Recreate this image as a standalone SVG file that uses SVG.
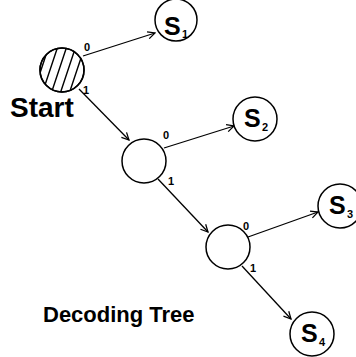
<svg xmlns="http://www.w3.org/2000/svg" width="356" height="357" viewBox="0 0 356 357">
<style>
.node{fill:#fff;stroke:#000;stroke-width:1.5}
.edge{fill:none;stroke:#000;stroke-width:1.3}
.hatch{stroke:#000;stroke-width:1.4}
.s{font-family:"Liberation Sans",Arial,sans-serif;font-weight:bold;font-size:25px;fill:#000}
.sub{font-family:"Liberation Sans",Arial,sans-serif;font-weight:bold;font-size:11px;fill:#000}
.lbl{font-family:"Liberation Sans",Arial,sans-serif;font-weight:bold;font-size:11px;fill:#000}
.title{font-family:"Liberation Sans",Arial,sans-serif;font-weight:bold;fill:#000}
</style>
<defs>
<marker id="arr" viewBox="0 0 10 10" refX="9" refY="5" markerWidth="9" markerHeight="9" markerUnits="userSpaceOnUse" orient="auto">
<path d="M1,1 L9,5 L1,9" fill="none" stroke="#000" stroke-width="1.4"/>
</marker>
<clipPath id="startClip"><circle cx="62" cy="70" r="22"/></clipPath>
</defs>
<g id="connectors">
<line class="edge" x1="83" y1="56" x2="155" y2="33" marker-end="url(#arr)"/>
<line class="edge" x1="79" y1="89" x2="129" y2="140" marker-end="url(#arr)"/>
<line class="edge" x1="164" y1="148" x2="234" y2="126" marker-end="url(#arr)"/>
<line class="edge" x1="158" y1="179" x2="208" y2="232" marker-end="url(#arr)"/>
<line class="edge" x1="248" y1="237" x2="318" y2="212" marker-end="url(#arr)"/>
<line class="edge" x1="242" y1="266" x2="291" y2="319" marker-end="url(#arr)"/>
<text class="lbl" x="84" y="51">0</text>
<text class="lbl" x="83" y="94">1</text>
<text class="lbl" x="163" y="139">0</text>
<text class="lbl" x="168" y="185">1</text>
<text class="lbl" x="243" y="230">0</text>
<text class="lbl" x="250" y="272">1</text>
</g>
<g id="start">
<circle class="node" cx="62" cy="70" r="22"/>
<g clip-path="url(#startClip)">
<line class="hatch" x1="22" y1="100" x2="42" y2="40"/>
<line class="hatch" x1="31" y1="100" x2="51" y2="40"/>
<line class="hatch" x1="40" y1="100" x2="60" y2="40"/>
<line class="hatch" x1="49" y1="100" x2="69" y2="40"/>
<line class="hatch" x1="58" y1="100" x2="78" y2="40"/>
<line class="hatch" x1="67" y1="100" x2="87" y2="40"/>
<line class="hatch" x1="76" y1="100" x2="96" y2="40"/>
</g>
<circle cx="62" cy="70" r="22" fill="none" stroke="#000" stroke-width="1.5"/>
<text class="title" x="10" y="117" font-size="28">Start</text>
</g>
<g id="n1">
<circle class="node" cx="144" cy="161" r="22"/>
</g>
<g id="n2">
<circle class="node" cx="228" cy="247" r="22"/>
</g>
<g id="s1">
<circle class="node" cx="176" cy="20" r="21"/>
<text class="s" x="164" y="35">S</text><text class="sub" x="182" y="38">1</text>
</g>
<g id="s2">
<circle class="node" cx="255" cy="119" r="22"/>
<text class="s" x="244" y="127">S</text><text class="sub" x="262" y="131">2</text>
</g>
<g id="s3">
<circle class="node" cx="340" cy="206" r="22"/>
<text class="s" x="329" y="214">S</text><text class="sub" x="347" y="218">3</text>
</g>
<g id="s4">
<circle class="node" cx="312" cy="334" r="22"/>
<text class="s" x="301" y="342">S</text><text class="sub" x="319" y="346">4</text>
</g>
<text class="title" x="43" y="322" font-size="22">Decoding Tree</text>
</svg>
